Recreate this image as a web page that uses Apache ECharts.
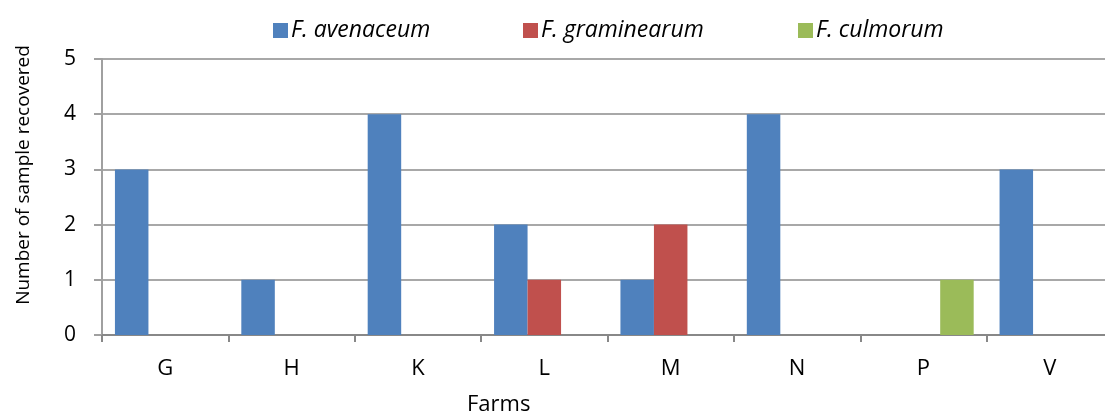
<!DOCTYPE html>
<html><head><meta charset="utf-8">
<script src="https://cdn.jsdelivr.net/npm/echarts@6/dist/echarts.min.js"></script>
<style>html,body{margin:0;padding:0;background:#fff}#c{width:1105px;height:417px}</style>
</head><body><div id="c"></div>
<script>
const categories = ['G','H','K','L','M','N','P','V'];
const avenaceum = [3,1,4,2,1,4,0,3];
const graminearum = [0,0,0,1,2,0,0,0];
const culmorum = [0,0,0,0,0,0,1,0];
const seriesNames = ['F. avenaceum','F. graminearum','F. culmorum'];
const yTicks = [0,1,2,3,4,5];
const colors = ['#4F81BD','#C0504D','#9BBB59'];

const font = '"Open Sans", "Liberation Sans", sans-serif';
const legendLefts = [268, 518, 793];
const chart = echarts.init(document.getElementById('c'), null, {renderer:'canvas'});
chart.setOption({
  animation:false,
  color:colors,
  textStyle:{fontFamily:font},
  legend: seriesNames.map((n,i)=>({
    top:14, left:legendLefts[i],
    itemWidth:15, itemHeight:15, itemGap:0,
    icon:'rect',
    textStyle:{fontSize:23, fontStyle:'italic', color:'#000', fontFamily:font, padding:[0,0,0,-2]},
    data:[n]
  })),
  grid:{left:102, width:1011, top:59, bottom:82, containLabel:false, outerBoundsMode:'none'},
  xAxis:{
    type:'category', data:categories,
    axisLine:{lineStyle:{color:'#888888', width:2}},
    axisTick:{show:true, length:7, lineStyle:{color:'#888888', width:2}},
    axisLabel:{fontSize:22, color:'#000', margin:23, fontFamily:font}
  },
  yAxis:{
    type:'value', min:yTicks[0], max:yTicks[yTicks.length-1], interval:1,
    axisLine:{show:true, lineStyle:{color:'#A0A0A0', width:2}},
    axisTick:{show:true, length:8, lineStyle:{color:'#A0A0A0', width:2}},
    splitLine:{lineStyle:{color:'#A8A8A8', width:2}},
    axisLabel:{fontSize:21, color:'#000', margin:26, fontFamily:font}
  },
  graphic:[
    {type:'text', left:467, top:394, style:{text:'Farms', fontSize:22, fill:'#000', fontFamily:font}},
    {type:'text', x:24, y:175, rotation:Math.PI/2,
     style:{text:'Number of sample recovered', fontSize:19, fill:'#000', fontFamily:font, textAlign:'center', textVerticalAlign:'middle'}}
  ],
  series: [avenaceum, graminearum, culmorum].map((d,i)=>({
    name:seriesNames[i], type:'bar', data:d, barWidth:33.5, barGap:'0%', itemStyle:{color:colors[i]}
  }))
});
</script></body></html>
